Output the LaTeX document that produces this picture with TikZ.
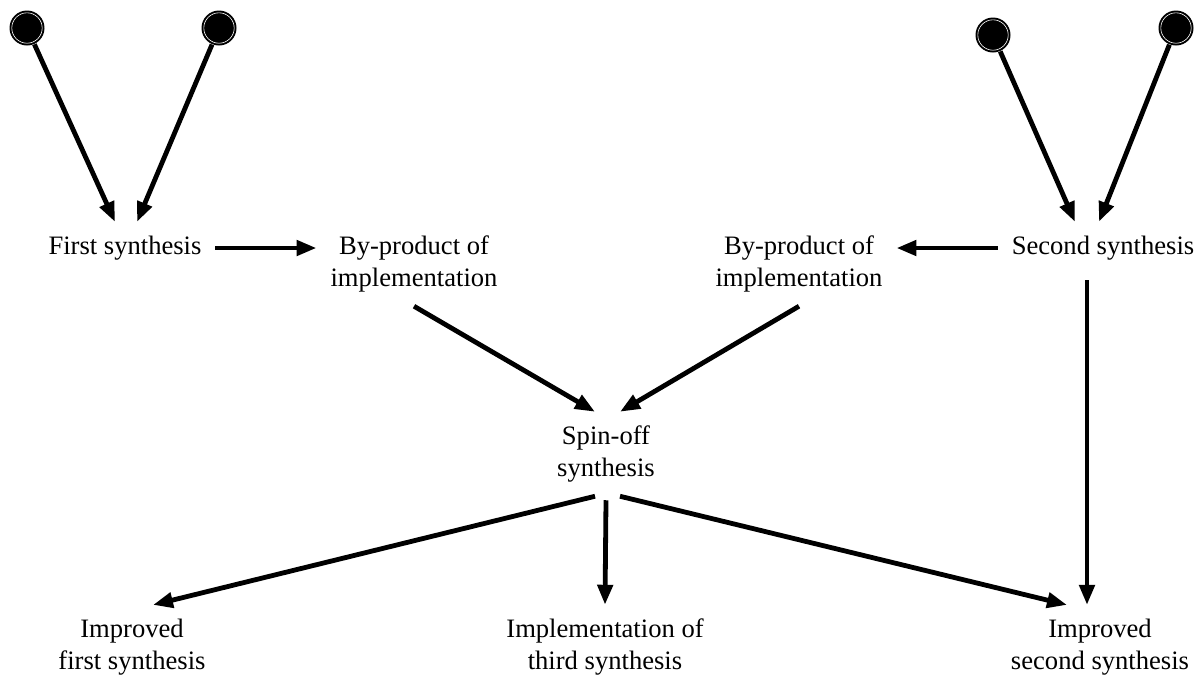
\documentclass[tikz,border=0pt]{standalone}
\usepackage{fontspec}
\setmainfont{Liberation Serif}
\usetikzlibrary{arrows.meta}

\begin{document}
\begin{tikzpicture}[x=0.5pt,y=-0.5pt,
  ball/.style = {circle, fill=black, inner sep=0pt, minimum size=17.5pt},
  txt/.style = {align=center, inner sep=0pt, outer sep=7pt, font=\fontsize{13.3pt}{16pt}\selectfont},
  arr/.style = {line width=2.4pt, -{Triangle[length=10pt,width=7.5pt]}}]
  \useasboundingbox (0,0) rectangle (1204,677);
  \begin{scope}[every node/.style={ball}]
    \node (L1) at (27,28) {};
    \node (L2) at (219,28) {};
    \node (R1) at (993,35) {};
    \node (R2) at (1176,28) {};
  \end{scope}
  \foreach \n in {L1,L2,R1,R2}
    \draw[white, line width=0.3pt] (\n) circle (7.6pt);
  \begin{scope}[every node/.style={txt}]
    \node (first) at (125,248) {First synthesis};
    \node (byprodA) at (414,264) {By-product of\\implementation};
    \node (byprodB) at (799,264) {By-product of\\implementation};
    \node (second) at (1103,248) {Second synthesis};
    \node (spinoff) at (606,454) {Spin-off\\synthesis};
    \node (impfirst) at (132,647) {Improved\\first synthesis};
    \node (third) at (605,647) {Implementation of\\third synthesis};
    \node (impsecond) at (1100,647) {Improved\\second synthesis};
  \end{scope}
  \draw [arr] (L1) -- ([xshift=-5pt]first.north);
  \draw [arr] (L2) -- ([xshift=6pt]first.north);
  \draw [arr] (R1) -- ([xshift=-14pt]second.north);
  \draw [arr] (R2) -- ([xshift=-2pt]second.north);
  \draw [arr] (first.east) -- (first.east -| byprodA.west);
  \draw [arr] (second.west) -- (second.west -| byprodB.east);
  \draw [arr] (byprodA.south) -- ([xshift=-5.5pt]spinoff.north);
  \draw [arr] (byprodB.south) -- ([xshift=7pt]spinoff.north);
  \draw [arr] ([xshift=-5.5pt]spinoff.south) -- ([xshift=10.5pt]impfirst.north);
  \draw [arr] ([yshift=-2pt]spinoff.south) -- (third.north);
  \draw [arr] ([xshift=7pt]spinoff.south) -- ([xshift=-16.5pt]impsecond.north);
  \draw [arr] ([xshift=-8pt,yshift=-3pt]second.south) -- ([xshift=-6.5pt]impsecond.north);
\end{tikzpicture}
\end{document}
